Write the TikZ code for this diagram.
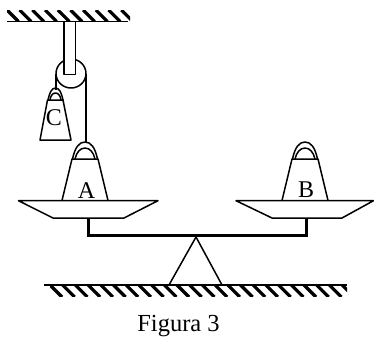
\documentclass[tikz,border=0pt]{standalone}
\usepackage{fontspec}
\setmainfont{Liberation Serif}
\tikzset{
    lineobj/.style={line width=1.5pt, line join=round},
    beamline/.style={line width=3pt, line join=miter},
    hatchline/.style={line width=3.2pt},
    letter/.style={font=\fontsize{24}{24}\selectfont, inner sep=0pt, anchor=base},
}
% one weight standing on the named base point
\newcommand{\weightshape}[1]{
    \begin{scope}[shift={(#1)}]
        \draw[lineobj] (-23,0) -- (-13,-41.5) -- (13,-41.5) -- (23,0);
        \draw[lineobj] (-12.5,-41.5) .. controls (-10,-53) and (-6,-58.5) .. (0,-58.5)
            .. controls (6,-58.5) and (10,-53) .. (12.5,-41.5);
        \draw[lineobj] (-10,-41.5) .. controls (-8.5,-48) and (-5,-52.5) .. (0,-52.5)
            .. controls (5,-52.5) and (8.5,-48) .. (10,-41.5);
    \end{scope}
}
\begin{document}
\begin{tikzpicture}[x=1pt, y=-1pt]
    \useasboundingbox (0,0) rectangle (374,337);

    % Ceiling and ground with their hatching
    \begin{scope}
        \clip (7,11) rectangle (130,21);
        \foreach \i in {0,...,10} {
            \draw[hatchline] (7+12.7*\i,10) -- (18.5+12.7*\i,21.5);
        }
    \end{scope}
    \draw[lineobj] (7,21.5) -- (128,21.5);
    \begin{scope}
        \clip (50,285) rectangle (347,296.5);
        \foreach \i in {0,...,23} {
            \draw[hatchline] (49+12.7*\i,284) -- (62+12.7*\i,297);
        }
    \end{scope}
    \draw[lineobj] (44,285) -- (347,285);

    % Pulley with its rod and ropes
    \coordinate (pulleyC) at (71,73.5);
    \draw[lineobj] (pulleyC) ellipse (15 and 14.5);
    \draw[lineobj, fill=white] (64,22) -- (64,74.5) -- (75.5,74.5) -- (75.5,22);
    \draw[lineobj] (56,73.5) -- (56,90);
    \draw[lineobj] (86,73.5) -- (86,142);

    % Weights
    \begin{scope}[shift={(55.5,140)}]
        \draw[lineobj] (-15.5,0) -- (-8,-40) -- (7.5,-40) -- (15.5,0) -- cycle;
        \draw[lineobj] (-7.5,-40) .. controls (-6,-47) and (-4,-52) .. (0,-52)
            .. controls (4,-52) and (6,-47) .. (7.5,-40);
        \draw[lineobj] (-5.5,-40) .. controls (-5,-44) and (-3,-47) .. (0,-47)
            .. controls (3,-47) and (5,-44) .. (5.5,-40);
    \end{scope}
    \coordinate (baseA) at (85,200.5);
    \coordinate (baseB) at (305,200.5);
    \weightshape{baseA}
    \weightshape{baseB}

    % Labels
    \node[letter] (labelC) at (54,125.5) {C};
    \node[letter] (labelA) at (86.5,198) {A};
    \node[letter] (labelB) at (306,197.5) {B};

    % Scale pans
    \draw[lineobj] (18.5,200.7) -- (158,200.7) -- (124,218) -- (53,218) -- cycle;
    \draw[lineobj] (236,200.7) -- (373.5,200.7) -- (342,218) -- (272,218) -- cycle;

    % Beam and fulcrum
    \draw[beamline] (88.5,218) -- (88.5,235.7) -- (306,235.7) -- (306,218);
    \draw[lineobj] (169,285) -- (196,237) -- (222,285);

    % Caption
    \node[font=\fontsize{24.5}{24.5}\selectfont, inner sep=0pt, anchor=base] (caption) at (178.5,331) {Figura 3};
\end{tikzpicture}
\end{document}
